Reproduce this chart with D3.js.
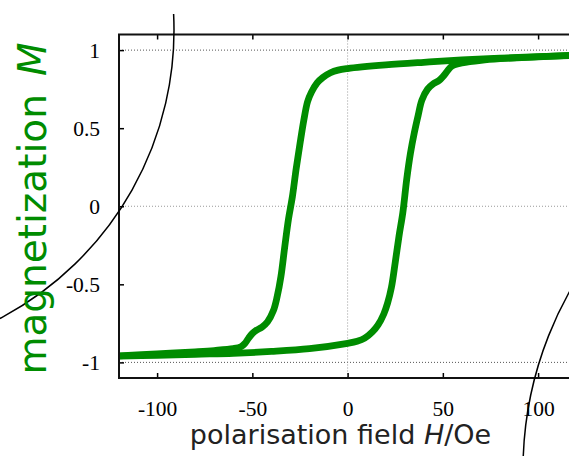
<!DOCTYPE html>
<html lang="en">
<head>
<meta charset="UTF-8">
<title>Hysteresis loop</title>
<script src="https://d3js.org/d3.v7.min.js"></script>
<style>
    body { margin: 0; background: #fff; }
    svg { display: block; }
    .tick text { font: 21.5px "Liberation Serif", serif; fill: #000; }
    .tick line { stroke: #000; stroke-width: 1.5px; }
    .domain { display: none; }
    .label { font-family: "DejaVu Sans", sans-serif; }
</style>
</head>
<body>
<script>
    // tick values
    const fieldTicks = [-100, -50, 0, 50, 100];
    const magTicks = [-1, -0.5, 0, 0.5, 1];
    const gridM = [-1, 0, 1];
    const gridH = [0];

    // descending branch (field swept from +120 to -120 Oe)
    const upperH = [120, 100, 80, 60, 40, 20, 0, -5, -9, -13, -16, -19, -21, -23, -25, -27, -29, -31, -33, -35, -37, -39, -42, -45, -48, -50, -52, -54, -56, -60, -70, -80, -100, -120];
    const upperM = [0.966, 0.958, 0.948, 0.937, 0.922, 0.905, 0.882, 0.872, 0.855, 0.825, 0.79, 0.73, 0.67, 0.55, 0.40, 0.24, 0.06, -0.08, -0.26, -0.45, -0.58, -0.67, -0.74, -0.775, -0.795, -0.815, -0.845, -0.88, -0.90, -0.912, -0.924, -0.932, -0.945, -0.958];

    // ascending branch (field swept from -120 to +120 Oe)
    const lowerH = [-120, -100, -80, -60, -40, -20, 0, 5, 9, 13, 16, 19, 21, 23, 25, 27, 29, 31, 33, 35, 37, 39, 42, 45, 48, 50, 52, 54, 56, 60, 70, 80, 100, 120];
    const lowerM = [-0.960, -0.955, -0.948, -0.942, -0.930, -0.912, -0.878, -0.865, -0.845, -0.805, -0.76, -0.69, -0.62, -0.52, -0.36, -0.19, -0.04, 0.17, 0.34, 0.47, 0.58, 0.68, 0.75, 0.785, 0.805, 0.83, 0.86, 0.89, 0.905, 0.918, 0.935, 0.945, 0.957, 0.968];

    const W = 569, H = 456;
    const margin = { top: 34.5, left: 119, bottom: 378 };

    const svg = d3.select("body").append("svg")
        .attr("width", W)
        .attr("height", H);

    const x = d3.scaleLinear().domain([-120, 120]).range([margin.left, margin.left + 240 * 1.905]);
    const y = d3.scaleLinear().domain([-1.1, 1.1]).range([margin.bottom, margin.top]);

    // plain hyphen for negative numbers, like the original
    const fmt = d => String(d);

    // dotted grid
    svg.selectAll(".gridm")
        .data(gridM)
        .enter().append("line")
        .attr("x1", x(-120)).attr("x2", W)
        .attr("y1", d => y(d)).attr("y2", d => y(d))
        .attr("stroke", d => d === 0 ? "#999" : "#555")
        .attr("stroke-width", 1)
        .attr("stroke-dasharray", "1,2");

    svg.selectAll(".gridh")
        .data(gridH)
        .enter().append("line")
        .attr("x1", d => x(d)).attr("x2", d => x(d))
        .attr("y1", y(1.1)).attr("y2", y(-1.1))
        .attr("stroke", "#999")
        .attr("stroke-width", 1)
        .attr("stroke-dasharray", "1,2");

    // curves
    const line = d3.line()
        .x(d => x(d[0]))
        .y(d => y(d[1]))
        .curve(d3.curveCatmullRom.alpha(0.5));

    const branches = [d3.zip(upperH, upperM), d3.zip(lowerH, lowerM)];

    svg.append("clipPath").attr("id", "plotclip")
        .append("rect")
        .attr("x", x(-120)).attr("y", y(1.1))
        .attr("width", W - x(-120)).attr("height", y(-1.1) - y(1.1));

    svg.append("g").attr("clip-path", "url(#plotclip)")
        .selectAll("path")
        .data(branches)
        .enter().append("path")
        .attr("d", line)
        .attr("fill", "none")
        .attr("stroke", "#008c00")
        .attr("stroke-width", 6.8)
        .attr("stroke-linejoin", "round")
        .attr("stroke-linecap", "round");

    // axes, ticks pointing inward
    svg.append("g")
        .attr("transform", "translate(0," + y(-1.1) + ")")
        .call(d3.axisBottom(x).tickValues(fieldTicks).tickSize(-5).tickPadding(23).tickFormat(fmt));

    svg.append("g")
        .attr("transform", "translate(0," + y(1.1) + ")")
        .call(d3.axisTop(x).tickValues(fieldTicks).tickSize(-5).tickFormat(""));

    svg.append("g")
        .attr("transform", "translate(" + x(-120) + ",0)")
        .call(d3.axisLeft(y).tickValues(magTicks).tickSize(-5).tickPadding(19).tickFormat(fmt));

    // frame
    const frame = d3.path();
    frame.moveTo(W + 2, y(1.1));
    frame.lineTo(x(-120), y(1.1));
    frame.lineTo(x(-120), y(-1.1));
    frame.lineTo(W + 2, y(-1.1));
    svg.append("path")
        .attr("d", frame.toString())
        .attr("fill", "none")
        .attr("stroke", "#111")
        .attr("stroke-width", 2);

    // decorative arcs
    const arcL = d3.path();
    arcL.arc(-152, 30, 326, -0.049, 2.2);
    svg.append("path").attr("d", arcL.toString())
        .attr("fill", "none").attr("stroke", "#000").attr("stroke-width", 1.5);

    const arcR = d3.path();
    arcR.arc(888, 470, 365, 0, 2 * Math.PI);
    svg.append("path").attr("d", arcR.toString())
        .attr("fill", "none").attr("stroke", "#000").attr("stroke-width", 1.5);

    // axis labels
    const xl = svg.append("text")
        .attr("class", "label")
        .attr("x", 340.5).attr("y", 444)
        .attr("text-anchor", "middle")
        .attr("font-size", 27)
        .attr("fill", "#222");
    xl.append("tspan").text("polarisation field ");
    xl.append("tspan").attr("font-style", "italic").text("H");
    xl.append("tspan").text("/Oe");

    const yl = svg.append("text")
        .attr("class", "label")
        .attr("transform", "translate(46,208.5) rotate(-90)")
        .attr("text-anchor", "middle")
        .attr("font-size", 39)
        .attr("fill", "#008c00");
    yl.append("tspan").text("magnetization");
    yl.append("tspan").attr("dx", 18).attr("font-style", "italic").text("M");
</script>
</body>
</html>
